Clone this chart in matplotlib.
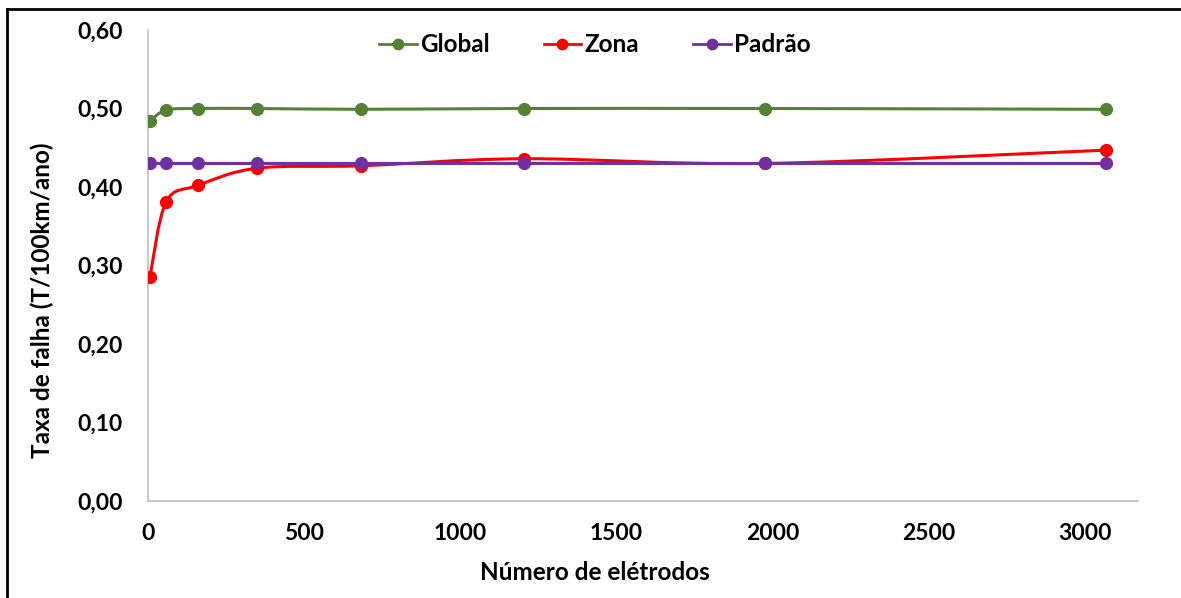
import matplotlib
matplotlib.use("Agg")
import matplotlib.pyplot as plt
from matplotlib.path import Path
from matplotlib.patches import PathPatch
from matplotlib.lines import Line2D
from matplotlib.ticker import FuncFormatter

# Data
x_vals = [6, 58, 160, 350, 682, 1203, 1975, 3069]
global_vals = [0.484, 0.498, 0.500, 0.500, 0.499, 0.500, 0.500, 0.499]
zona_vals = [0.285, 0.381, 0.402, 0.424, 0.427, 0.436, 0.430, 0.447]
padrao_vals = [0.430, 0.430, 0.430, 0.430, 0.430, 0.430, 0.430, 0.430]
series_names = ["Global", "Zona", "Padrão"]
colors = ["#548235", "#FF0000", "#7030A0"]

xticks = [0, 500, 1000, 1500, 2000, 2500, 3000]
yticks = [0.0, 0.1, 0.2, 0.3, 0.4, 0.5, 0.6]

W, H = 1181, 598
fig = plt.figure(figsize=(W / 100, H / 100), dpi=100)
left, right, top, bottom = 148, 1138, 30, 501
ax = fig.add_axes([left / W, (H - bottom) / H, (right - left) / W, (bottom - top) / H])
xmin, xmax = 0, 3170
ymin, ymax = 0.0, 0.6
ax.set_xlim(xmin, xmax)
ax.set_ylim(ymin, ymax)

FONT = "Lato"
TICK_FS = 16.5
LABEL_FS = 17.5
sx = (right - left) / (xmax - xmin)
sy = (bottom - top) / (ymax - ymin)


def smooth_path(xs, ys):
    # Excel-like smoothed line (Catmull-Rom style Bezier) computed in pixel space
    px = [x * sx for x in xs]
    py = [y * sy for y in ys]
    n = len(px)
    verts = [(xs[0], ys[0])]
    codes = [Path.MOVETO]
    for i in range(n - 1):
        p0 = (px[i - 1], py[i - 1]) if i > 0 else (px[i], py[i])
        p1 = (px[i], py[i])
        p2 = (px[i + 1], py[i + 1])
        p3 = (px[i + 2], py[i + 2]) if i + 2 < n else (px[i + 1], py[i + 1])
        c1 = (p1[0] + (p2[0] - p0[0]) / 6, p1[1] + (p2[1] - p0[1]) / 6)
        c2 = (p2[0] - (p3[0] - p1[0]) / 6, p2[1] - (p3[1] - p1[1]) / 6)
        for c in (c1, c2, p2):
            verts.append((c[0] / sx, c[1] / sy))
            codes.append(Path.CURVE4)
    return Path(verts, codes)


for vals, col in zip([global_vals, zona_vals, padrao_vals], colors):
    patch = PathPatch(smooth_path(x_vals, vals), facecolor="none", edgecolor=col,
                      lw=2.2, capstyle="round", joinstyle="round", zorder=2)
    ax.add_patch(patch)
    ax.plot(x_vals, vals, linestyle="none", marker="o", markersize=8.5,
            color=col, zorder=3)

for s in ["top", "right"]:
    ax.spines[s].set_visible(False)
for s in ["left", "bottom"]:
    ax.spines[s].set_color("#BFBFBF")
    ax.spines[s].set_linewidth(1.2)

ax.set_xticks(xticks)
ax.set_yticks(yticks)
ax.tick_params(length=0)
ax.tick_params(axis="x", pad=16)
ax.tick_params(axis="y", pad=18)
ax.yaxis.set_major_formatter(FuncFormatter(lambda v, p: f"{v:.2f}".replace(".", ",")))
for lbl in ax.get_xticklabels() + ax.get_yticklabels():
    lbl.set_fontfamily(FONT)
    lbl.set_fontweight("bold")
    lbl.set_fontsize(TICK_FS)

ax.set_xlabel("Número de elétrodos", fontfamily=FONT, fontweight="bold", fontsize=LABEL_FS, labelpad=12)
ax.set_ylabel("Taxa de falha (T/100km/ano)", fontfamily=FONT, fontweight="bold", fontsize=LABEL_FS, labelpad=12)
ax.xaxis.set_label_coords((595 - left) / (right - left), -(573 - bottom) / (bottom - top))
ax.yaxis.set_label_coords(-(left - 42) / (right - left), (bottom - 300) / (bottom - top))
ax.xaxis.label.set_va("center")
ax.yaxis.label.set_va("center")

handles = [Line2D([0], [0], color=c, lw=2.0, marker="o", markersize=7.5) for c in colors]
leg = ax.legend(handles, series_names, loc="center", bbox_to_anchor=((595 - left) / (right - left), (bottom - 45) / (bottom - top)),
                ncol=3, frameon=False, handlelength=1.55, handletextpad=0.15,
                columnspacing=2.2, borderpad=0, prop={"family": FONT, "weight": "bold", "size": LABEL_FS})

# Figure border (top and left visible)
fig.add_artist(Line2D([7 / W, 1], [(H - 9) / H, (H - 9) / H], color="black", lw=2.0,
                      transform=fig.transFigure))
fig.add_artist(Line2D([7 / W, 7 / W], [0, (H - 9) / H], color="black", lw=2.0,
                      transform=fig.transFigure))

fig.savefig("out.png", dpi=100)
